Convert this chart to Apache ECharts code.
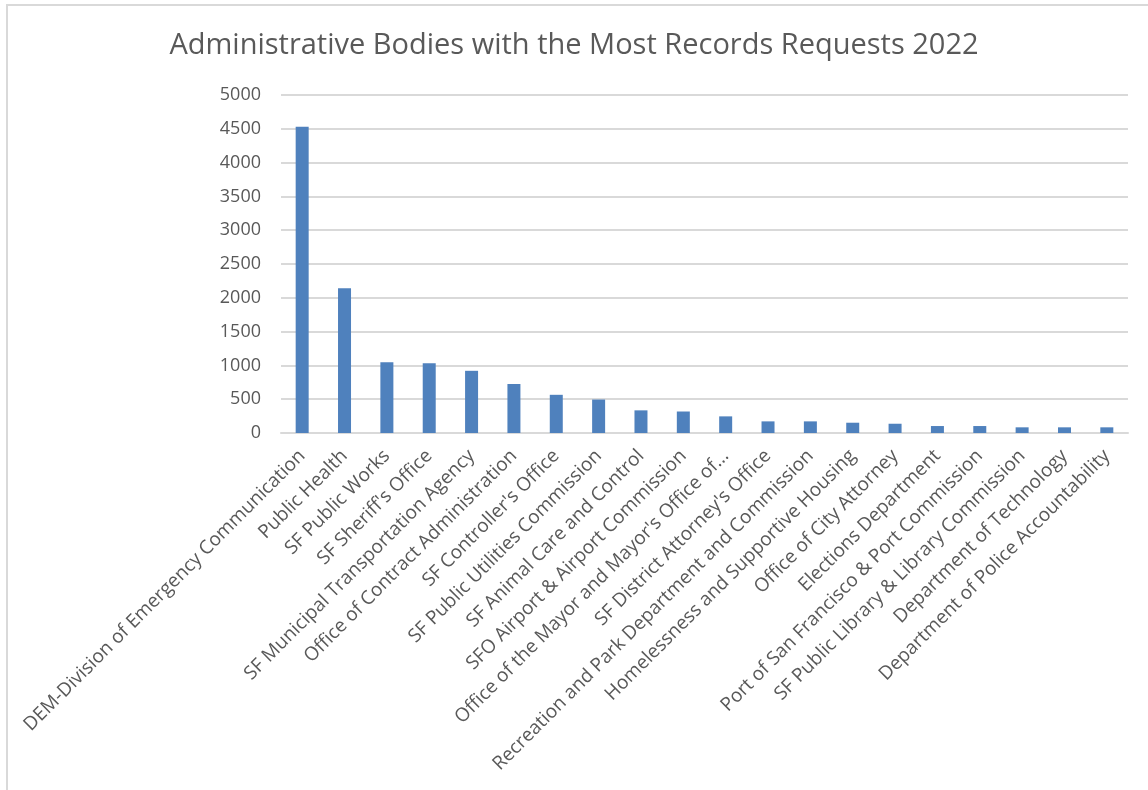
<!DOCTYPE html>
<html>
<head>
<meta charset="utf-8">
<script src="https://cdn.jsdelivr.net/npm/echarts@6/dist/echarts.min.js"></script>
<style>
html,body{margin:0;padding:0;background:#fff;}
#chart{width:1148px;height:790px;}
</style>
</head>
<body>
<div id="chart"></div>
<script>
const titleText = "Administrative Bodies with the Most Records Requests 2022";
const categories = [
  "DEM-Division of Emergency Communication",
  "Public Health",
  "SF Public Works",
  "SF Sheriff's Office",
  "SF Municipal Transportation Agency",
  "Office of Contract Administration",
  "SF Controller's Office",
  "SF Public Utilities Commission",
  "SF Animal Care and Control",
  "SFO Airport & Airport Commission",
  "Office of the Mayor and Mayor's Office of...",
  "SF District Attorney's Office",
  "Recreation and Park Department and Commission",
  "Homelessness and Supportive Housing",
  "Office of City Attorney",
  "Elections Department",
  "Port of San Francisco & Port Commission",
  "SF Public Library & Library Commission",
  "Department of Technology",
  "Department of Police Accountability"
];
const requests = [4530, 2140, 1045, 1030, 920, 725, 565, 495, 335, 318, 246, 172, 172, 152, 137, 103, 103, 84, 84, 84];
const yMin = 0, yMax = 5000, yStep = 500;

const chart = echarts.init(document.getElementById('chart'));
const textColor = '#595959';
const font = '"Open Sans", "Liberation Sans", sans-serif';
chart.setOption({
  backgroundColor: '#fff',
  animation: false,
  title: {
    text: titleText,
    left: 'center',
    top: 26,
    textStyle: {color: textColor, fontSize: 29, fontWeight: 'normal', fontFamily: font}
  },
  graphic: [{
    type: 'rect',
    shape: {x: 7, y: 5, width: 1160, height: 800},
    style: {fill: 'none', stroke: '#d9d9d9', lineWidth: 2},
    silent: true
  }],
  grid: {left: 281, right: 20, top: 95, bottom: 357},
  xAxis: {
    type: 'category',
    data: categories,
    axisLine: {lineStyle: {color: '#d9d9d9', width: 2}},
    axisTick: {show: false},
    axisLabel: {
      interval: 0,
      rotate: 45,
      margin: 20,
      color: textColor,
      fontSize: 19,
      fontFamily: font
    }
  },
  yAxis: {
    type: 'value',
    min: yMin,
    max: yMax,
    interval: yStep,
    axisLine: {show: false},
    axisTick: {show: false},
    splitLine: {lineStyle: {color: '#d9d9d9', width: 2}},
    axisLabel: {color: textColor, fontSize: 18, fontFamily: font, margin: 20,
      formatter: v => String(v)}
  },
  series: [{
    type: 'bar',
    data: requests,
    barWidth: 13,
    itemStyle: {color: '#4f81bd'}
  }]
});
</script>
</body>
</html>
